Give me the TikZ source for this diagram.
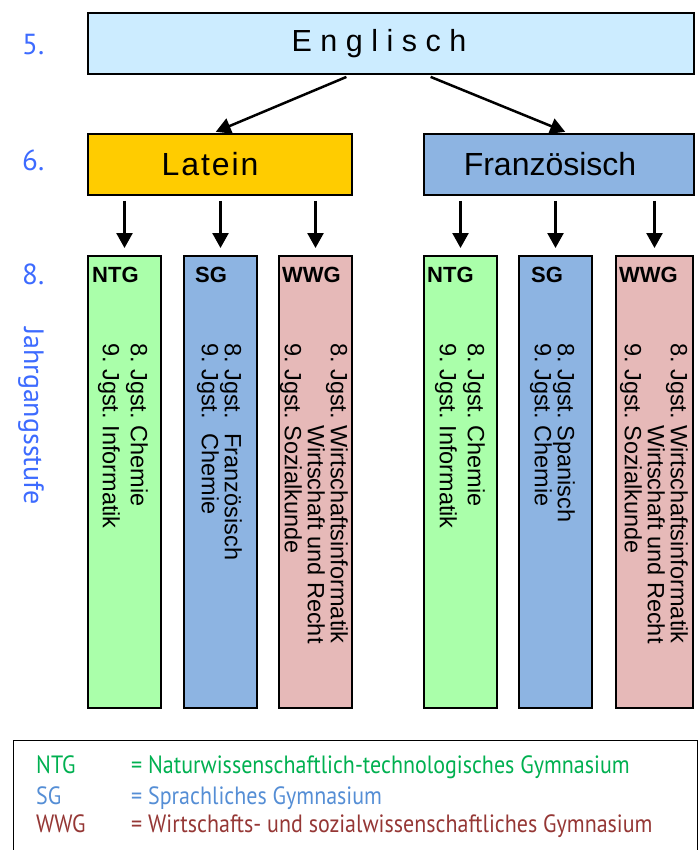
\documentclass[tikz,border=0pt]{standalone}
\usepackage{fontspec}
\setmainfont{Liberation Sans}
\newfontfamily\tahoma{PT Sans}
\newfontfamily\legfont[FakeStretch=0.88]{PT Sans}
\usetikzlibrary{arrows.meta}
\frenchspacing

\definecolor{englblau}{RGB}{204,236,255}
\definecolor{latgelb}{RGB}{255,204,0}
\definecolor{frzblau}{RGB}{141,180,226}
\definecolor{ntggruen}{RGB}{170,255,170}
\definecolor{wwgrosa}{RGB}{230,185,184}
\definecolor{stufenblau}{RGB}{61,107,255}
\definecolor{legntg}{RGB}{0,176,80}
\definecolor{legsg}{RGB}{85,142,213}
\definecolor{legwwg}{RGB}{149,55,53}

\begin{document}
\begin{tikzpicture}
		[x=1pt,y=-1pt,
		 box/.style={draw, line width=2pt, anchor=north west, inner sep=0pt},
		 spalte/.style={box, minimum width=73pt, minimum height=452pt},
		 kopf/.style={anchor=north west, inner sep=0pt, font=\fontsize{22}{22}\selectfont\bfseries},
		 fach/.style={rotate=-90, anchor=north west, inner sep=0pt, align=left},
		 pfeil/.style={-{Triangle[length=15pt,width=16pt]}, line width=2.5pt},
		 stufe/.style={anchor=west, inner sep=0pt, text=stufenblau, font=\tahoma\fontsize{29}{29}\selectfont},
		 legende/.style={anchor=base west, inner sep=0pt, font=\legfont\fontsize{25}{25}\selectfont}]
			\useasboundingbox (0,0) rectangle (700,850);
			% Sprachen
			\node [box, fill=englblau, minimum width=606pt, minimum height=61pt] (engl) at (87,12)
				{\fontsize{30.5}{30.5}\selectfont E n g l i s c h\kern24pt};
			\node [box, fill=latgelb, minimum width=264pt, minimum height=61pt] (lat) at (87,133)
				{\fontsize{32}{32}\selectfont\addfontfeature{LetterSpace=6}Latein\kern20pt};
			\node [box, fill=frzblau, minimum width=270pt, minimum height=61pt] (frz) at (423,133)
				{\fontsize{32}{32}\selectfont Französisch\kern18pt};
			% Zweige
			\node [spalte, fill=ntggruen] (ntgL) at (87,255) {};
			\node [spalte, fill=frzblau] (sgL) at (183,255) {};
			\node [spalte, fill=wwgrosa] (wwgL) at (278,255) {};
			\node [spalte, fill=ntggruen] (ntgR) at (423,255) {};
			\node [spalte, fill=frzblau] (sgR) at (518,255) {};
			\node [spalte, fill=wwgrosa, minimum width=77pt] (wwgR) at (615,255) {};
			\node [kopf] (kNtgL) at (92,267) {NTG};
			\node [kopf] (kSgL) at (195,267) {SG};
			\node [kopf] (kWwgL) at (282,267) {WWG};
			\node [kopf] (kNtgR) at (427,267) {NTG};
			\node [kopf] (kSgR) at (531,267) {SG};
			\node [kopf] (kWwgR) at (619,267) {WWG};
			\node [fach, font=\fontsize{23.5}{28}\selectfont] (tNtgL) at (148,343)
				{8. Jgst. Chemie\\9. Jgst. Informatik};
			\node [fach, font=\fontsize{23.5}{23}\selectfont] (tSgL) at (242,343)
				{8. Jgst.\hspace{8pt} Französisch\\9. Jgst.\hspace{8pt} Chemie};
			\node [fach, font=\fontsize{23.5}{23}\selectfont] (tWwgL) at (348,343)
				{8. Jgst. Wirtschaftsinformatik\\\phantom{8. Jgst. }Wirtschaft und Recht\\9. Jgst. Sozialkunde};
			\node [fach, font=\fontsize{23.5}{28}\selectfont] (tNtgR) at (485,343)
				{8. Jgst. Chemie\\9. Jgst. Informatik};
			\node [fach, font=\fontsize{23.5}{21}\selectfont] (tSgR) at (575,343)
				{8. Jgst. Spanisch\\9. Jgst. Chemie};
			\node [fach, font=\fontsize{23.5}{23}\selectfont] (tWwgR) at (688,343)
				{8. Jgst. Wirtschaftsinformatik\\\phantom{8. Jgst. }Wirtschaft und Recht\\9. Jgst. Sozialkunde};
			% Pfeile
			\draw [pfeil, shorten <=5pt, shorten >=3pt] ([xshift=-40pt]engl.south) -- ([xshift=-7pt]lat.north);
			\draw [pfeil, shorten <=5pt, shorten >=3pt] ([xshift=35pt]engl.south) -- ([xshift=9pt]frz.north);
			\foreach \z in {ntgL,sgL,wwgL}
				\draw [pfeil, shorten <=5pt, shorten >=7pt] (lat.south -| \z.north) -- (\z.north);
			\foreach \z in {ntgR,sgR,wwgR}
				\draw [pfeil, shorten <=5pt, shorten >=7pt] (frz.south -| \z.north) -- (\z.north);
			% Jahrgangsstufen
			\node [stufe] (s5) at (22,45) {5.};
			\node [stufe] (s6) at (22,160) {6.};
			\node [stufe] (s8) at (22,274) {8.};
			\node [stufe, rotate=-90, anchor=north west, font=\tahoma\fontsize{28}{28}\selectfont] (jgst) at (44,327) {Jahrgangsstufe};
			% Legende
			\node [draw, line width=1pt, anchor=north west, minimum width=684pt, minimum height=125pt] (leg) at (13,740) {};
			\node [legende, text=legntg] (lNtg) at (36,773) {NTG};
			\node [legende, text=legntg] (eNtg) at (131,773) {= Naturwissenschaftlich-technologisches Gymnasium};
			\node [legende, text=legsg] (lSg) at (36,804) {SG};
			\node [legende, text=legsg] (eSg) at (131,804) {= Sprachliches Gymnasium};
			\node [legende, text=legwwg] (lWwg) at (36,832) {WWG};
			\node [legende, text=legwwg] (eWwg) at (131,832) {= Wirtschafts- und sozialwissenschaftliches Gymnasium};
	\end{tikzpicture}
\end{document}
